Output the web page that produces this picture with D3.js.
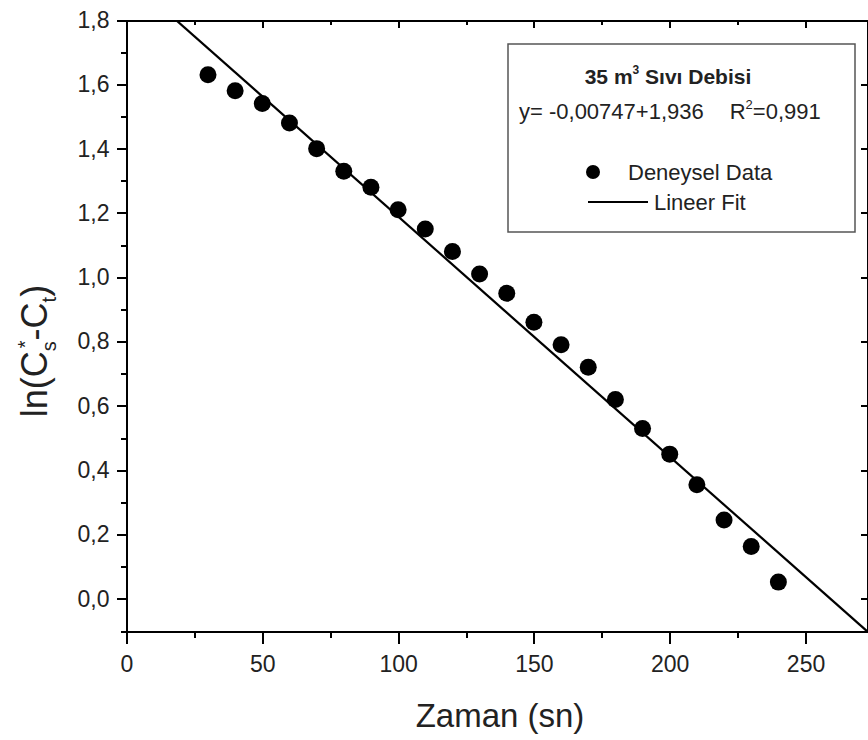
<!DOCTYPE html>
<html lang="tr">
<head>
<meta charset="UTF-8">
<title>ln(Cs*-Ct) - Zaman</title>
<script src="https://cdn.jsdelivr.net/npm/d3@7"></script>
<style>
body { margin: 0; background: #fff; font-family: "Liberation Sans", Arial, sans-serif; }
.axis path, .axis line { fill: none; stroke: #000; stroke-width: 2px; shape-rendering: crispEdges; }
.axis text { font-family: "Liberation Sans", Arial, sans-serif; font-size: 23px; fill: #222; }
</style>
</head>
<body>
<script>

// time (s) and measured ln(Cs*-Ct)
var zaman = [30, 40, 50, 60, 70, 80, 90, 100, 110, 120, 130, 140, 150, 160, 170, 180, 190, 200, 210, 220, 230, 240];
var lnValues = [1.63, 1.58, 1.54, 1.48, 1.40, 1.33, 1.28, 1.21, 1.15, 1.08, 1.01, 0.95, 0.86, 0.79, 0.72, 0.62, 0.53, 0.45, 0.355, 0.245, 0.163, 0.052];

// linear fit given in the legend
var fitSlope = -0.00747;
var fitIntercept = 1.936;

var xTicks = [0, 50, 100, 150, 200, 250];
var xMinorTicks = [25, 75, 125, 175, 225];
var yTicks = [0, 0.2, 0.4, 0.6, 0.8, 1.0, 1.2, 1.4, 1.6, 1.8];
var yMinorTicks = [-0.1, 0.1, 0.3, 0.5, 0.7, 0.9, 1.1, 1.3, 1.5, 1.7];

var W = 868, H = 740;
var pLeft = 126.5, pRight = 868, pTop = 20, pBottom = 631;

var svg = d3.select("body").append("svg")
    .attr("width", W)
    .attr("height", H);

var x = d3.scaleLinear().domain([0, 273]).range([pLeft, pRight]);
var y = d3.scaleLinear().domain([-0.1, 1.8]).range([pBottom, pTop]);

var fmtY = function(d) { return d3.format(".1f")(d).replace(".", ","); };

// clip for the fit line
svg.append("clipPath").attr("id", "plotclip")
  .append("rect")
    .attr("x", pLeft).attr("y", pTop)
    .attr("width", pRight - pLeft).attr("height", pBottom - pTop);

// fit line
var fitLine = d3.line()
    .x(function(d) { return x(d); })
    .y(function(d) { return y(fitSlope * d + fitIntercept); });

svg.append("path")
    .datum(x.domain())
    .attr("clip-path", "url(#plotclip)")
    .attr("d", fitLine)
    .attr("fill", "none")
    .attr("stroke", "#000")
    .attr("stroke-width", 2.2);

// data points
svg.append("g").selectAll("circle")
    .data(zaman)
  .enter().append("circle")
    .attr("cx", function(d) { return x(d); })
    .attr("cy", function(d, i) { return y(lnValues[i]); })
    .attr("r", 8.5)
    .attr("fill", "#000");

// bottom axis
svg.append("g").attr("class", "axis")
    .attr("transform", "translate(0," + pBottom + ")")
    .call(d3.axisBottom(x).tickValues(xMinorTicks).tickSize(7).tickSizeOuter(0).tickFormat(""));
svg.append("g").attr("class", "axis")
    .attr("transform", "translate(0," + pBottom + ")")
    .call(d3.axisBottom(x).tickValues(xTicks).tickSize(13).tickSizeOuter(0).tickPadding(12));

// top axis, ticks inside
svg.append("g").attr("class", "axis")
    .attr("transform", "translate(0," + pTop + ")")
    .call(d3.axisTop(x).tickValues(xMinorTicks).tickSize(-5).tickSizeOuter(0).tickFormat(""));
svg.append("g").attr("class", "axis")
    .attr("transform", "translate(0," + pTop + ")")
    .call(d3.axisTop(x).tickValues(xTicks).tickSize(-8).tickSizeOuter(0).tickFormat(""));

// left axis
svg.append("g").attr("class", "axis")
    .attr("transform", "translate(" + pLeft + ",0)")
    .call(d3.axisLeft(y).tickValues(yMinorTicks).tickSize(6).tickSizeOuter(0).tickFormat(""));
svg.append("g").attr("class", "axis")
    .attr("transform", "translate(" + pLeft + ",0)")
    .call(d3.axisLeft(y).tickValues(yTicks).tickSize(10).tickSizeOuter(0).tickPadding(7).tickFormat(fmtY));

// right axis (edge of the picture)
svg.append("g").attr("class", "axis")
    .attr("transform", "translate(" + (pRight - 1) + ",0)")
    .call(d3.axisRight(y).tickValues(yTicks).tickSize(-6).tickSizeOuter(0).tickFormat(""));

// x title
svg.append("text")
    .attr("x", 500)
    .attr("y", 727)
    .attr("text-anchor", "middle")
    .style("font-size", "33px")
    .style("fill", "#222")
    .text("Zaman (sn)");

// y title ln(Cs*-Ct)
var yt = svg.append("text")
    .attr("transform", "translate(47,351) rotate(-90)")
    .attr("text-anchor", "middle")
    .style("font-size", "36px")
    .style("fill", "#222");
yt.append("tspan").text("ln(C");
yt.append("tspan").attr("dy", 9).style("font-size", "20px").text("s");
yt.append("tspan").attr("dy", -24).attr("dx", -7).style("font-size", "20px").text("*");
yt.append("tspan").attr("dy", 15).text("-C");
yt.append("tspan").attr("dy", 9).style("font-size", "20px").text("t");
yt.append("tspan").attr("dy", -9).text(")");

// legend
var lg = svg.append("g");
lg.append("rect")
    .attr("x", 508).attr("y", 44)
    .attr("width", 347).attr("height", 188)
    .attr("fill", "#fff")
    .attr("stroke", "#555")
    .attr("stroke-width", 1.5);

var lt = lg.append("text")
    .attr("x", 668).attr("y", 84)
    .attr("text-anchor", "middle")
    .style("font-size", "21px")
    .style("font-weight", "bold")
    .style("fill", "#222");
lt.append("tspan").text("35 m");
lt.append("tspan").attr("dy", -10).style("font-size", "12px").text("3");
lt.append("tspan").attr("dy", 10).text(" Sıvı Debisi");

var le = lg.append("text")
    .attr("x", 519).attr("y", 119)
    .style("font-size", "22px")
    .style("fill", "#222");
le.append("tspan").text("y= -0,00747+1,936");
le.append("tspan").attr("dx", 26).text("R");
le.append("tspan").attr("dy", -10).style("font-size", "13px").text("2");
le.append("tspan").attr("dy", 10).text("=0,991");

lg.append("circle")
    .attr("cx", 593).attr("cy", 172).attr("r", 7)
    .attr("fill", "#000");
lg.append("text")
    .attr("x", 628).attr("y", 180)
    .style("font-size", "22px")
    .style("fill", "#222")
    .text("Deneysel Data");

lg.append("line")
    .attr("x1", 588).attr("x2", 648)
    .attr("y1", 202).attr("y2", 202)
    .attr("stroke", "#000")
    .attr("stroke-width", 2.2);
lg.append("text")
    .attr("x", 654).attr("y", 210)
    .style("font-size", "22px")
    .style("fill", "#222")
    .text("Lineer Fit");

</script>
</body>
</html>
